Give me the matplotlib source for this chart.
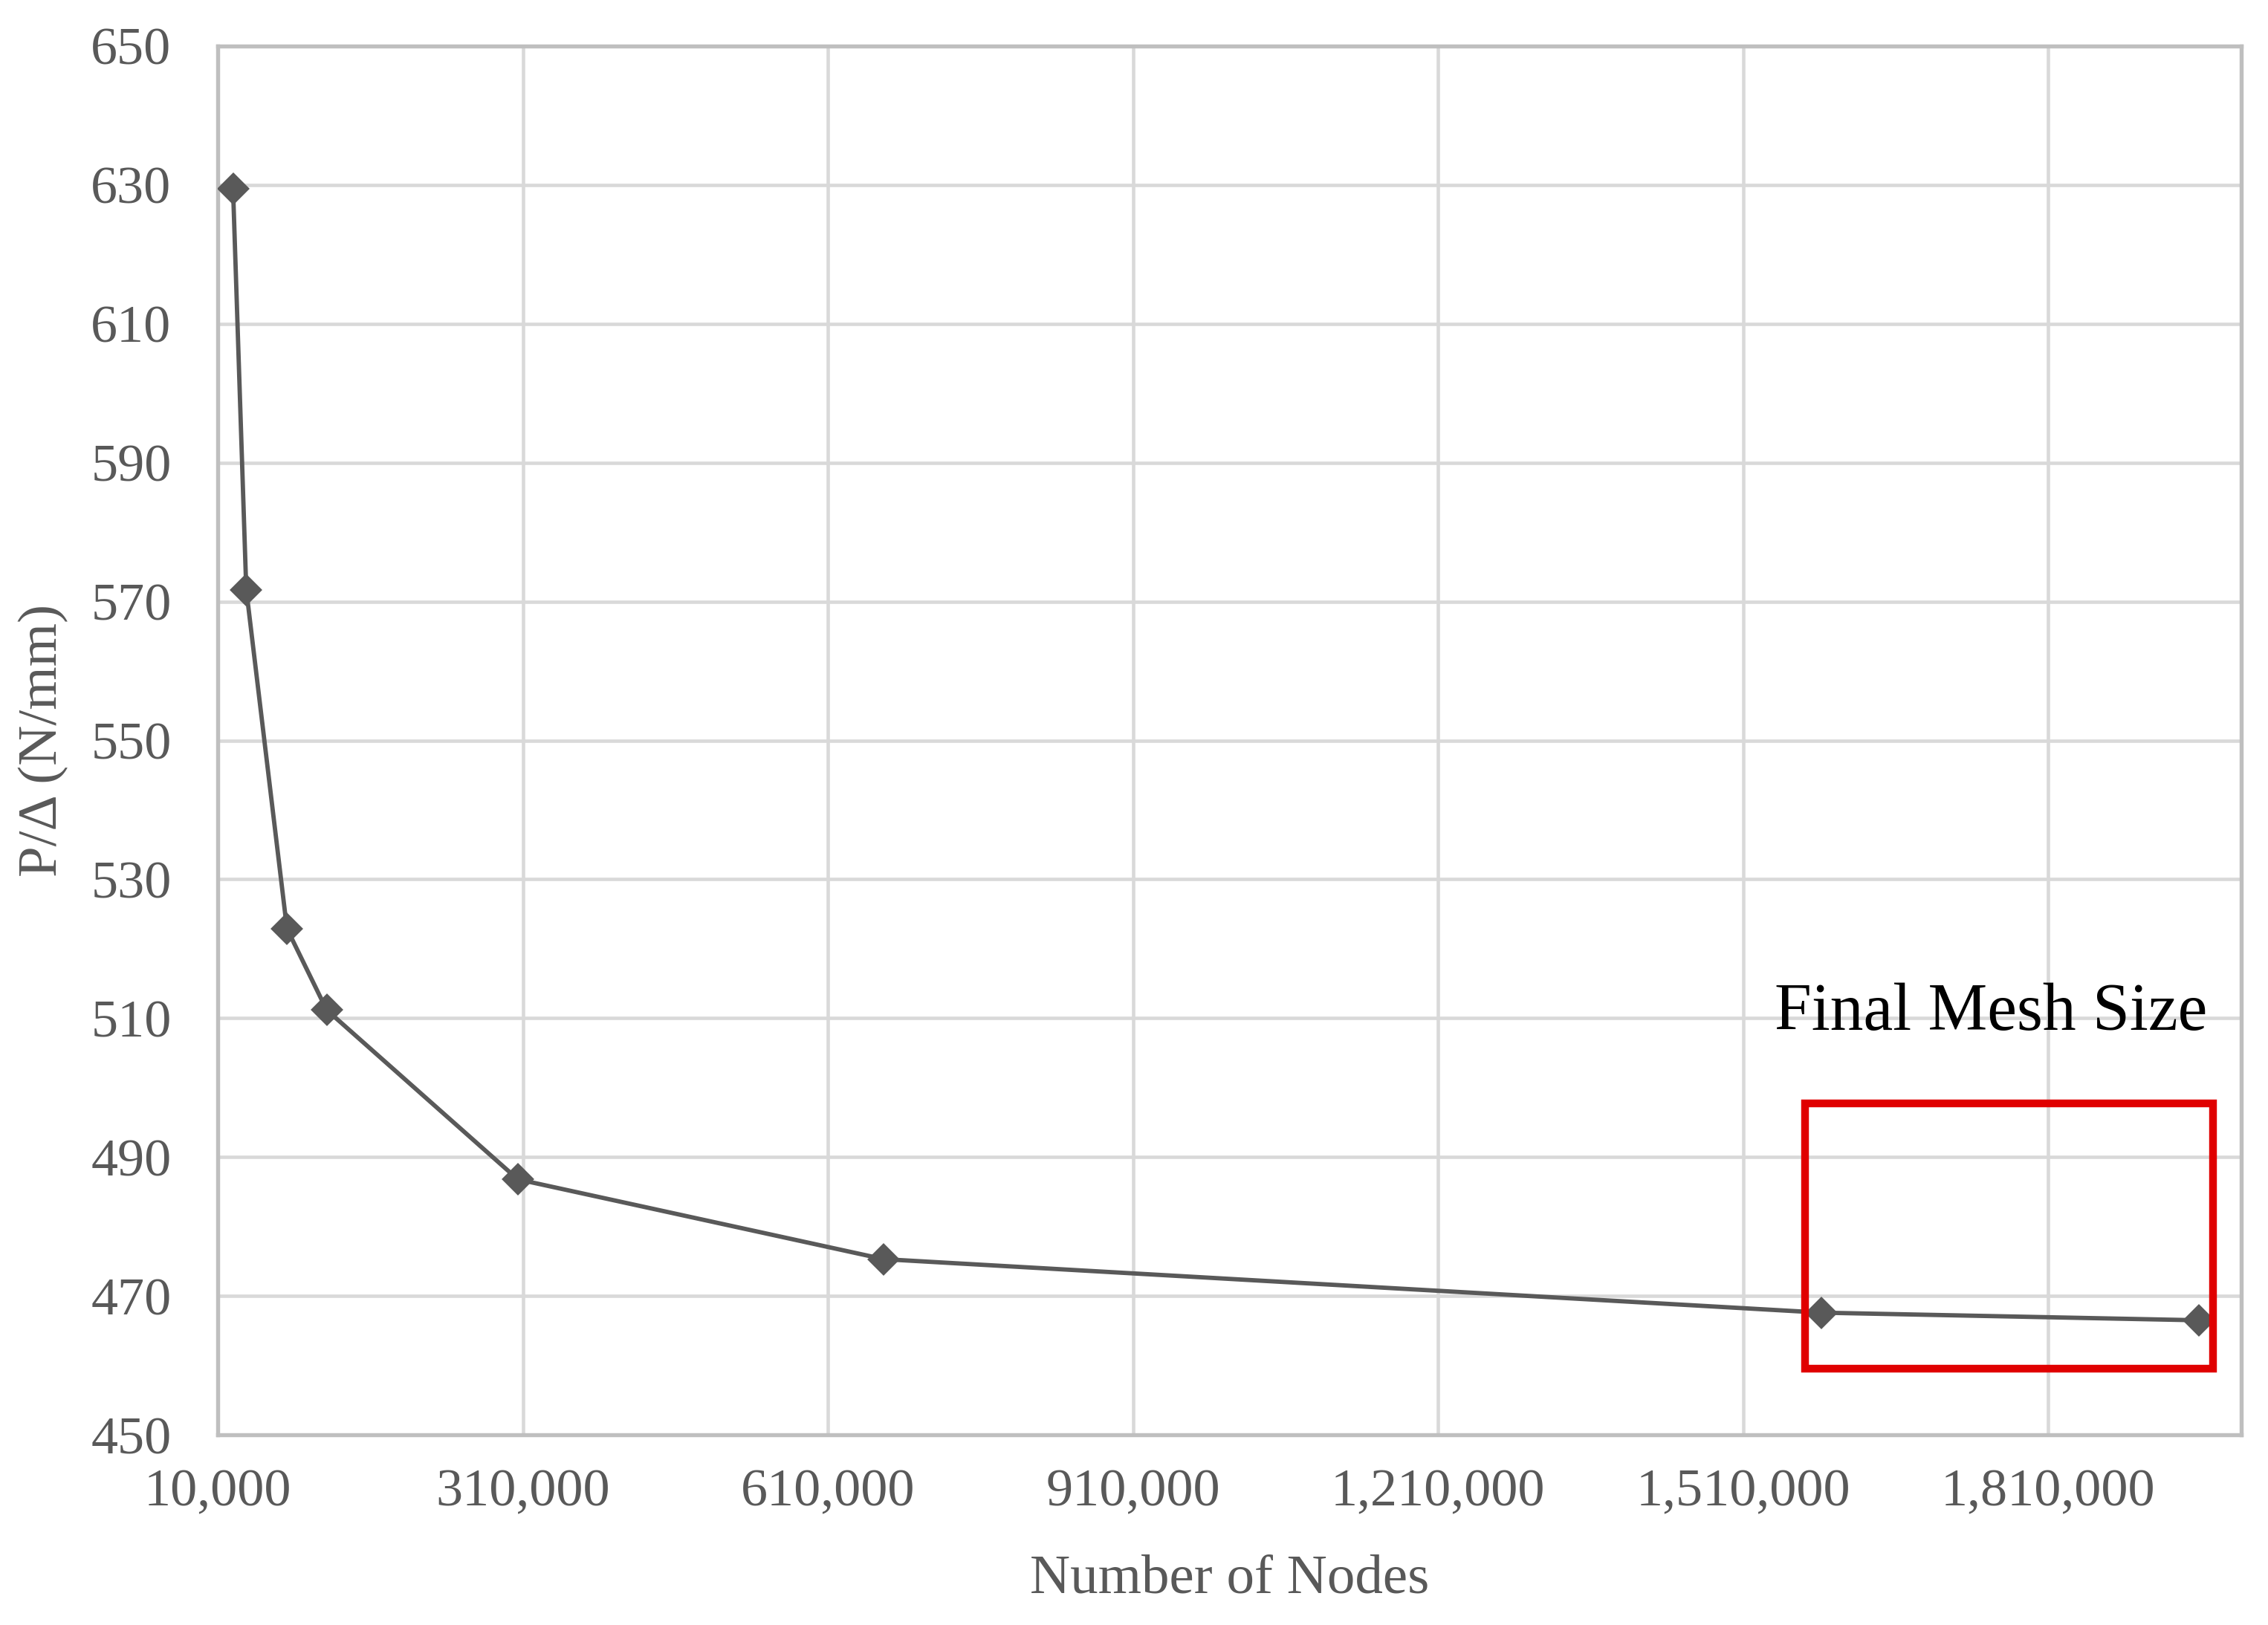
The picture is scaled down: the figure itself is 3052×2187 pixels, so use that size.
import numpy as np
import matplotlib
matplotlib.use("Agg")
import matplotlib.pyplot as plt
from matplotlib.patches import Rectangle
from matplotlib.ticker import FuncFormatter

plt.rcParams['font.family'] = ['Liberation Serif', 'DejaVu Serif']

# Donnees
noeuds = [25000, 38000, 78000, 117000, 305000, 665000, 1587000, 1958000]
rigidite = [629.4, 571.7, 522.9, 511.2, 486.8, 475.3, 467.6, 466.5]

x_ticks = [10000, 310000, 610000, 910000, 1210000, 1510000, 1810000]
y_ticks = [450, 470, 490, 510, 530, 550, 570, 590, 610, 630, 650]

# zone du maillage final
box_x = [1571000, 1972000]
box_y = [459.5, 497.7]

gris = '#595959'

fig = plt.figure(figsize=(3053 / 300, 2187 / 300), dpi=300)
ax = fig.add_axes([0.096, 0.117, 0.892, 0.8547])

ax.plot(noeuds, rigidite, color=gris, lw=1.4, marker='D', markersize=6.3,
        markerfacecolor=gris, markeredgecolor=gris, zorder=3)

ax.set_xlim(10000, 2000000)
ax.set_ylim(450, 650)
ax.set_xticks(x_ticks)
ax.set_yticks(y_ticks)
ax.xaxis.set_major_formatter(FuncFormatter(lambda v, p: f"{int(v):,}"))

ax.grid(True, color='#d9d9d9', lw=1.1, zorder=0)
ax.set_axisbelow(True)
for s in ax.spines.values():
    s.set_color('#bfbfbf')
    s.set_linewidth(1.3)

ax.tick_params(axis='both', length=0, labelsize=17.3, labelcolor=gris)
ax.tick_params(axis='x', pad=11)
ax.tick_params(axis='y', pad=15)

ax.set_xlabel("Number of Nodes", fontsize=18, color=gris, va='center')
ax.xaxis.set_label_coords(0.5, -0.104)
ax.set_ylabel("P/Δ (N/mm)", fontsize=18, color=gris, va='center')
ax.yaxis.set_label_coords(-0.0863, 0.5)

rect = Rectangle((box_x[0], box_y[0]), box_x[1] - box_x[0], box_y[1] - box_y[0],
                 fill=False, edgecolor='#e00000', lw=2.5, zorder=4)
ax.add_patch(rect)
ax.text((box_x[0] + box_x[1]) / 2 - 18000, 508.3, "Final Mesh Size", fontsize=21.5,
        color='black', ha='center', va='baseline', zorder=5)

fig.savefig("out.png", dpi=300, facecolor='white')
